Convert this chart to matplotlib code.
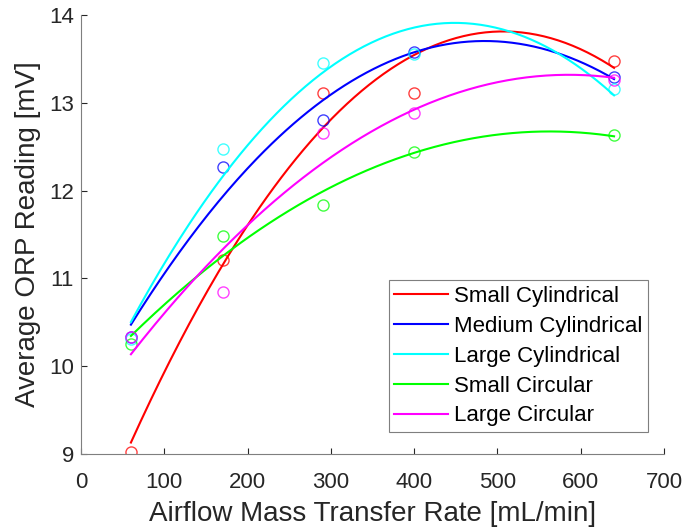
import numpy as np
import matplotlib
matplotlib.use("Agg")
import matplotlib.pyplot as plt

plt.rcParams["font.family"] = ["Liberation Sans", "DejaVu Sans"]

airflow = [60, 170, 290, 400, 640]
small_cyl = [9.02, 11.21, 13.11, 13.11, 13.48]
medium_cyl = [10.33, 12.27, 12.80, 13.58, 13.29]
large_cyl = [10.31, 12.47, 13.45, 13.55, 13.16]
small_circ = [10.25, 11.48, 11.83, 12.44, 12.63]
large_circ = [10.33, 10.85, 12.66, 12.88, 13.26]

series = [
  ("Small Cylindrical", small_cyl, "#ff0000"),
  ("Medium Cylindrical", medium_cyl, "#0000ff"),
  ("Large Cylindrical", large_cyl, "#00ffff"),
  ("Small Circular", small_circ, "#00ff00"),
  ("Large Circular", large_circ, "#ff00ff"),
]

fig = plt.figure(figsize=(6.86, 5.31), dpi=100)
ax = fig.add_axes([0.118, 0.145, 0.850, 0.827])

x_fit = np.linspace(min(airflow), max(airflow), 200)
for label, values, color in series:
  coeffs = np.polyfit(airflow, values, 2)
  ax.plot(x_fit, np.polyval(coeffs, x_fit), color=color, linewidth=1.5, label=label)
  ax.plot(airflow, values, "o", markersize=8, markerfacecolor="none",
          markeredgecolor=color, markeredgewidth=1.0, alpha=0.75)

ax.set_xlim(0, 700)
ax.set_ylim(9, 14)
ax.set_xticks(range(0, 701, 100))
ax.set_yticks(range(9, 15))
ax.set_xlabel("Airflow Mass Transfer Rate [mL/min]", fontsize=20, color="#262626", labelpad=6)
ax.set_ylabel("Average ORP Reading [mV]", fontsize=20, color="#262626", labelpad=6)
ax.tick_params(direction="in", labelsize=16, colors="#262626", length=4)
ax.tick_params(axis="x", pad=13)
ax.tick_params(axis="y", pad=5)
for side in ("top", "right"):
  ax.spines[side].set_visible(False)
for side in ("left", "bottom"):
  ax.spines[side].set_color("#7f7f7f")

leg = ax.legend(loc="lower right", bbox_to_anchor=(0.973, 0.05), borderaxespad=0,
                fontsize=16, handlelength=2.4, handletextpad=0.3, borderpad=0.25,
                labelspacing=0.4, fancybox=False, edgecolor="#7f7f7f", framealpha=1)
leg.get_frame().set_linewidth(0.8)

fig.savefig("out.png", dpi=100)
